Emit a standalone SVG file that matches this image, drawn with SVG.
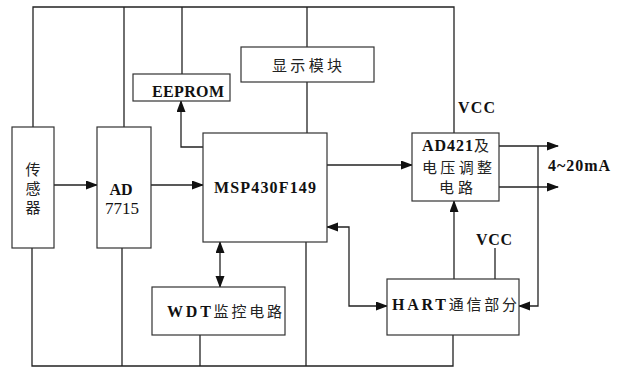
<svg xmlns="http://www.w3.org/2000/svg" width="624" height="368" viewBox="0 0 624 368">
<defs>
<marker id="ah" markerWidth="12" markerHeight="10" refX="11" refY="4.5" orient="auto-start-reverse" markerUnits="userSpaceOnUse">
<path d="M0,0 L12,4.5 L0,9 z" fill="#111"/>
</marker>
<style>
.box{fill:#fff;stroke:#333;stroke-width:1.2}
.ln{fill:none;stroke:#222;stroke-width:1.3}
.ar{fill:none;stroke:#222;stroke-width:1.3;marker-end:url(#ah)}
.ar2{fill:none;stroke:#222;stroke-width:1.3;marker-end:url(#ah);marker-start:url(#ah)}
.t{font-family:"Liberation Serif","Noto Sans CJK SC",serif;font-size:16px;font-weight:bold;fill:#111}
.c{font-family:"Liberation Serif","Noto Sans CJK SC",serif;font-size:15px;fill:#222}
</style>
</defs>
<rect width="624" height="368" fill="#fff"/>
<g id="connectors">
<polyline class="ln" points="33,127 33,7 454,7 454,133"/>
<line class="ln" x1="124" y1="7" x2="124" y2="127"/>
<line class="ln" x1="182" y1="7" x2="182" y2="74"/>
<line class="ln" x1="307" y1="7" x2="307" y2="47"/>
<line class="ln" x1="307" y1="82" x2="307" y2="133"/>
<polyline class="ln" points="32,248 32,366 453,366 453,335"/>
<line class="ln" x1="122" y1="248" x2="122" y2="366"/>
<line class="ln" x1="200" y1="335" x2="200" y2="366"/>
<line class="ln" x1="306" y1="242" x2="306" y2="366"/>
<line class="ar" x1="54" y1="185" x2="97" y2="185"/>
<line class="ar" x1="151" y1="185" x2="203" y2="185"/>
<polyline class="ar" points="203,147 181,147 181,101"/>
<line class="ar" x1="327" y1="165" x2="412" y2="165"/>
<line class="ar" x1="499" y1="146" x2="558" y2="146"/>
<line class="ar" x1="499" y1="187" x2="558" y2="187"/>
<polyline class="ar" points="538,146 538,306 519,306"/>
<line class="ar" x1="454" y1="279" x2="454" y2="201"/>
<line class="ln" x1="495" y1="248" x2="495" y2="279"/>
<polyline class="ar2" points="327,227 349,227 349,306 387,306"/>
<line class="ar2" x1="220" y1="242" x2="220" y2="287"/>
</g>
<g id="sensor">
<rect class="box" x="12" y="127" width="42" height="121"/>
<text class="c" x="33" y="175" text-anchor="middle">传</text>
<text class="c" x="33" y="194" text-anchor="middle">感</text>
<text class="c" x="33" y="213" text-anchor="middle">器</text>
</g>
<g id="ad7715">
<rect class="box" x="97" y="127" width="54" height="121"/>
<text class="t" x="121" y="195" text-anchor="middle">AD</text>
<text class="t" x="122" y="214" text-anchor="middle" style="font-weight:normal;font-size:17px">7715</text>
</g>
<g id="eeprom">
<rect class="box" x="133" y="74" width="97" height="27"/>
<text class="t" x="152" y="97" textLength="72" lengthAdjust="spacing">EEPROM</text>
</g>
<g id="display">
<rect class="box" x="241" y="47" width="133" height="35"/>
<text class="c" x="272" y="71" textLength="70" lengthAdjust="spacing">显示模块</text>
</g>
<g id="msp">
<rect class="box" x="203" y="133" width="124" height="109"/>
<text class="t" x="214" y="193" textLength="102" lengthAdjust="spacing">MSP430F149</text>
</g>
<g id="ad421">
<rect class="box" x="412" y="133" width="87" height="68"/>
<text class="t" x="422" y="151" textLength="67" lengthAdjust="spacing">AD421<tspan class="c" style="font-weight:normal">及</tspan></text>
<text class="c" x="422" y="173" textLength="70" lengthAdjust="spacing">电压调整</text>
<text class="c" x="439" y="193" textLength="34" lengthAdjust="spacing">电路</text>
</g>
<g id="wdt">
<rect class="box" x="152" y="287" width="133" height="48"/>
<text class="t" x="167" y="317" textLength="115" lengthAdjust="spacing">WDT<tspan class="c" style="font-weight:normal">监控电路</tspan></text>
</g>
<g id="hart">
<rect class="box" x="387" y="279" width="132" height="56"/>
<text class="t" x="392" y="310" textLength="125" lengthAdjust="spacing">HART<tspan class="c" style="font-weight:normal">通信部分</tspan></text>
</g>
<g id="labels">
<text class="t" x="458" y="113" textLength="37" lengthAdjust="spacing">VCC</text>
<text class="t" x="476" y="245" textLength="36" lengthAdjust="spacing">VCC</text>
<text class="t" x="548" y="171" textLength="62" lengthAdjust="spacing">4~20mA</text>
</g>
</svg>
